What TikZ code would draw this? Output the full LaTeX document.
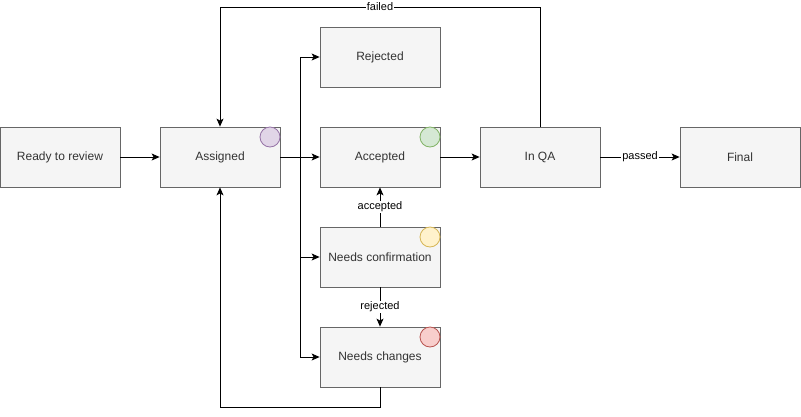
\documentclass[tikz,border=0pt]{standalone}
\usepackage{fontspec}
\setmainfont{Liberation Sans}
\usetikzlibrary{arrows.meta}
\definecolor{boxfill}{HTML}{F5F5F5}
\definecolor{boxline}{HTML}{666666}
\definecolor{boxtext}{HTML}{333333}
\definecolor{purfill}{HTML}{E1D5E7}\definecolor{purline}{HTML}{9673A6}
\definecolor{grnfill}{HTML}{D5E8D4}\definecolor{grnline}{HTML}{82B366}
\definecolor{yelfill}{HTML}{FFF2CC}\definecolor{yelline}{HTML}{D6B656}
\definecolor{redfill}{HTML}{F8CECC}\definecolor{redline}{HTML}{B85450}
\tikzset{
  state/.style={draw=boxline, fill=boxfill, text=boxtext, line width=0.8pt,
    minimum width=120pt, minimum height=60pt, inner sep=0pt,
    font=\fontsize{12}{14}\selectfont},
  flag/.style={circle, minimum size=20pt, inner sep=0pt, line width=0.8pt},
  flow/.style={-{Stealth[length=8pt,width=7pt,inset=2pt]}, line width=0.8pt, black},
  lbl/.style={fill=white, inner sep=1pt, font=\fontsize{11}{13}\selectfont, text=black}
}
\begin{document}
\begin{tikzpicture}[x=1pt, y=-1pt]
\useasboundingbox (0,0) rectangle (801,416);
% states
\node[state] (ready)    at (60,157)  {Ready to review};
\node[state] (assigned) at (220,157) {Assigned};
\node[state] (accepted) at (380,157) {Accepted};
\node[state] (rejected) at (380,57)  {Rejected};
\node[state] (confirm)  at (380,257) {Needs confirmation};
\node[state] (changes)  at (380,357) {Needs changes};
\node[state] (qa)       at (540,157) {In QA};
\node[state] (final)    at (740,157) {Final};
% status markers
\node[flag, fill=purfill, draw=purline] (fa) at (270,137) {};
\node[flag, fill=grnfill, draw=grnline] (fb) at (430,137) {};
\node[flag, fill=yelfill, draw=yelline] (fc) at (430,237) {};
\node[flag, fill=redfill, draw=redline] (fd) at (430,337) {};
% routing points
\coordinate (split) at (300,157);
\coordinate (topL) at (220,7);
\coordinate (topR) at (540,7);
\coordinate (botL) at (220,407);
\coordinate (botR) at (380,407);
% connectors
\draw[flow] (ready) -- (assigned);
\draw[flow] (assigned.east) -- (accepted.west);
\draw[flow] (split) |- (rejected.west);
\draw[flow] (split) |- (confirm.west);
\draw[flow] (split) |- (changes.west);
\draw[flow] (accepted) -- (qa);
\draw[flow] (qa) -- node[lbl] {passed} (final);
\draw[flow] (qa.north) -- (topR) -- node[lbl] {failed} (topL) -- (assigned.north);
\draw[flow] (confirm) -- node[lbl] {accepted} (accepted);
\draw[flow] (confirm) -- node[lbl] {rejected} (changes);
\draw[flow] (changes.south) -- (botR) -- (botL) -- (assigned.south);
\end{tikzpicture}
\end{document}
